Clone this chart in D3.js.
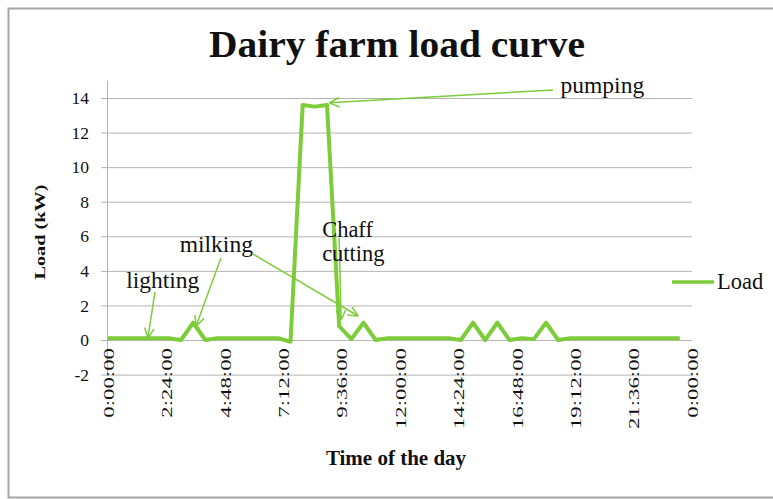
<!DOCTYPE html>
<html>
<head>
<meta charset="utf-8">
<script src="https://cdn.jsdelivr.net/npm/d3@7"></script>
<style>
  html, body { margin: 0; padding: 0; background: #fff; }
  svg { display: block; }
  text { font-family: "Liberation Serif", "Times New Roman", serif; fill: #111; }
</style>
</head>
<body>
<svg id="chart" width="773" height="499"></svg>
<script>
// ---- data (time in hours of the day, load in kW) ----
const hours = [0, 0.5, 1, 1.5, 2, 2.5, 3, 3.5, 4, 4.5, 5, 5.5, 6, 6.5, 7, 7.5,
  8, 8.5, 9, 9.5, 10, 10.5, 11, 11.5, 12, 12.5, 13, 13.5, 14, 14.5, 15, 15.5,
  16, 16.5, 17, 17.5, 18, 18.5, 19, 19.5, 20, 20.5, 21, 21.5, 22, 22.5, 23, 23.5];
const load = [0.1, 0.1, 0.1, 0.1, 0.1, 0.1, 0.0, 1.0, 0.0, 0.1, 0.1, 0.1, 0.1, 0.1, 0.1, -0.1,
  13.6, 13.5, 13.6, 0.8, 0.05, 1.0, 0.0, 0.1, 0.1, 0.1, 0.1, 0.1, 0.1, 0.0, 1.0, 0.0,
  1.0, 0.0, 0.1, 0.05, 1.0, 0.0, 0.1, 0.1, 0.1, 0.1, 0.1, 0.1, 0.1, 0.1, 0.1, 0.1];
const xTickValues = [0, 2.4, 4.8, 7.2, 9.6, 12, 14.4, 16.8, 19.2, 21.6, 24];
const xTickLabels = ["0:00:00", "2:24:00", "4:48:00", "7:12:00", "9:36:00", "12:00:00",
  "14:24:00", "16:48:00", "19:12:00", "21:36:00", "0:00:00"];
const yTickValues = [-2, 0, 2, 4, 6, 8, 10, 12, 14];
const seriesName = "Load";
const chartTitle = "Dairy farm load curve";
const xTitle = "Time of the day";
const yTitle = "Load (kW)";
// annotations in data coordinates: label anchor and arrow from/to
const annLabels = [
  { lines: ["pumping"], h: 18.6, v: 14.3 },
  { lines: ["lighting"], h: 0.75, v: 3.0 },
  { lines: ["milking"], h: 2.95, v: 5.1 },
  { lines: ["Chaff", "cutting"], h: 8.8, v: 5.95 }
];
const annArrows = [
  { h1: 18.29, v1: 14.46, h2: 9.1, v2: 13.72 },
  { h1: 1.93, v1: 2.78, h2: 1.64, v2: 0.12 },
  { h1: 4.64, v1: 4.74, h2: 3.62, v2: 0.81 },
  { h1: 5.96, v1: 4.97, h2: 10.28, v2: 1.39 },
  { h1: 9.5, v1: 5.9, h2: 9.58, v2: 1.16 }
];

// ---- layout ----
const svg = d3.select("#chart");
const green = "#7dcc3a";
const x = d3.scaleLinear().domain([0, 24]).range([108, 692]);
const y = d3.scaleLinear().domain([-2, 15]).range([374.6, 80.7]);

// border
svg.append("rect").attr("x", 8.5).attr("y", 8.5).attr("width", 780).attr("height", 489)
  .attr("fill", "none").attr("stroke", "#a6a6a6").attr("stroke-width", 2);

// title
svg.append("text").attr("x", 397).attr("y", 57).attr("text-anchor", "middle")
  .attr("textLength", 376).attr("lengthAdjust", "spacingAndGlyphs")
  .style("font-size", "37px").style("font-weight", "bold").text(chartTitle);

// gridlines
svg.append("g").selectAll("line").data(yTickValues).join("line")
  .attr("x1", x(0)).attr("x2", x(24))
  .attr("y1", d => y(d) + 0.5).attr("y2", d => y(d) + 0.5)
  .attr("stroke", "#b4b4b4").attr("stroke-width", 1);

// y axis
const yAxis = d3.axisLeft(y).tickValues(yTickValues).tickSize(7).tickPadding(12)
  .tickFormat(d => String(d));
const gy = svg.append("g").attr("transform", `translate(${x(0)},0)`).call(yAxis);
gy.select(".domain").attr("stroke", "#b4b4b4").attr("d", `M-0.5,${y(15)}V${y(-2)}`);
gy.selectAll(".tick line").attr("stroke", "#b4b4b4");
gy.selectAll(".tick text").style("font-size", "17.5px").style("font-family", '"Liberation Serif", serif').attr("fill", "#111");

// x axis labels (axis crosses at 0)
const xAxis = d3.axisBottom(x).tickValues(xTickValues).tickSize(0).tickPadding(0)
  .tickFormat((d, i) => xTickLabels[i]);
const gx = svg.append("g").attr("transform", `translate(0,${y(0)})`).call(xAxis);
gx.select(".domain").remove();
gx.selectAll(".tick text")
  .attr("transform", "rotate(-90) translate(-8,0) scale(1.52,1)")
  .attr("text-anchor", "end").attr("dy", "0.35em").attr("y", 0)
  .style("font-size", "15px").style("font-family", '"Liberation Serif", serif').attr("fill", "#111");

// axis titles
svg.append("text").attr("transform", `translate(45,232) rotate(-90) scale(1.35,1)`)
  .attr("text-anchor", "middle").style("font-size", "15px").style("font-weight", "bold").text(yTitle);
svg.append("text").attr("x", 396).attr("y", 465).attr("text-anchor", "middle")
  .style("font-size", "21px").style("font-weight", "bold").text(xTitle);

// line
const line = d3.line().x((d, i) => x(hours[i])).y(d => y(d));
svg.append("path").datum(load).attr("d", line).attr("fill", "none")
  .attr("stroke", green).attr("stroke-width", 4).attr("stroke-linejoin", "round");

// annotations
const ga = svg.append("g");
annArrows.forEach(a => {
  const x1 = x(a.h1), y1 = y(a.v1), x2 = x(a.h2), y2 = y(a.v2);
  ga.append("line").attr("x1", x1).attr("y1", y1).attr("x2", x2).attr("y2", y2)
    .attr("stroke", green).attr("stroke-width", 1.5);
  const ang = Math.atan2(y1 - y2, x1 - x2), L = 11, s = 0.45;
  [ang - s, ang + s].forEach(t => {
    ga.append("line").attr("x1", x2).attr("y1", y2)
      .attr("x2", x2 + L * Math.cos(t)).attr("y2", y2 + L * Math.sin(t))
      .attr("stroke", green).attr("stroke-width", 1.5);
  });
});
annLabels.forEach(a => {
  a.lines.forEach((ln, i) => {
    ga.append("text").attr("x", x(a.h)).attr("y", y(a.v) + i * 24)
      .style("font-size", i || a.lines.length > 1 ? "22.5px" : "23.5px").text(ln);
  });
});

// legend
svg.append("line").attr("x1", 672).attr("x2", 714).attr("y1", 282).attr("y2", 282)
  .attr("stroke", green).attr("stroke-width", 3.5);
svg.append("text").attr("x", 717).attr("y", 289).style("font-size", "22.5px").text(seriesName);
</script>
</body>
</html>
